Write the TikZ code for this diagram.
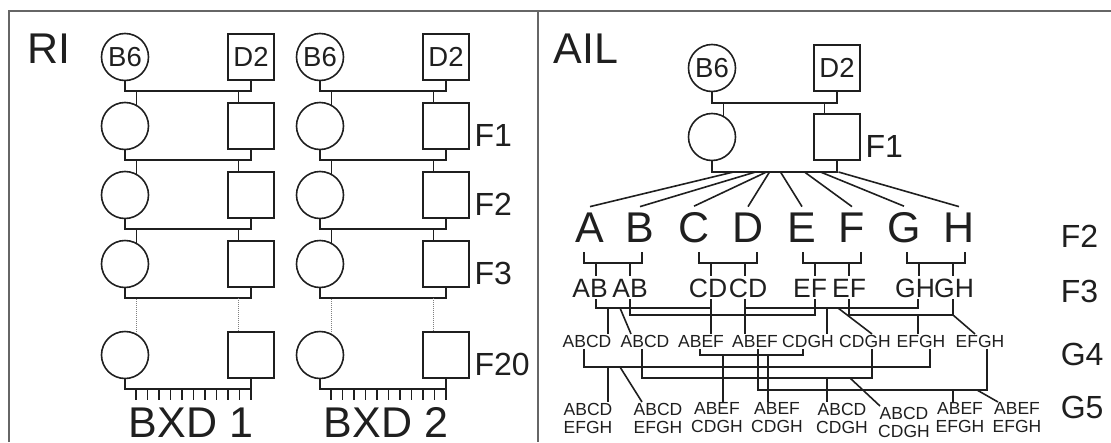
\documentclass[tikz,border=0pt]{standalone}
\usepackage{fontspec}
\setmainfont{Liberation Sans}
\usetikzlibrary{calc}
\newcommand{\fsbig}{\fontsize{43}{43}\selectfont}
\newcommand{\fsgen}{\fontsize{32}{32}\selectfont}
\newcommand{\fspar}{\fontsize{27.5}{27.5}\selectfont}
\newcommand{\fsmid}{\fontsize{26.5}{26.5}\selectfont}
\newcommand{\fssml}{\fontsize{17.5}{18}\selectfont}

\begin{document}
\begin{tikzpicture}[x=1pt, y=-1pt, line width=1.6pt, color=black!88,
  fem/.style={circle, draw, minimum size=47pt, inner sep=0pt, font=\fspar},
  mal/.style={rectangle, draw, minimum size=46pt, inner sep=0pt, font=\fspar},
  gen/.style={anchor=base west, inner sep=0pt, font=\fsgen},
  txt/.style={anchor=base, inner sep=0pt},
  frame/.style={line width=2pt, black!60}]
\useasboundingbox (0,0) rectangle (1111,442);
% frame
\draw[frame] (9,442) -- (9,11) -- (1111,11);
\draw[frame] (538,11) -- (538,442);

% RI: two inbred lines, brother x sister
\node[txt, anchor=base west, font=\fsbig] (ri) at (27,63) {RI};
\foreach \i/\cx in {1/125, 2/320} {
  \node[fem] (c\i0) at (\cx,57) {B6};
  \node[mal] (s\i0) at (\cx+126,57) {D2};
  \foreach \r/\ry in {1/126, 2/195, 3/264, 4/355} {
    \node[fem] (c\i\r) at (\cx,\ry) {};
    \node[mal] (s\i\r) at (\cx+126,\ry) {};
  }
  \foreach \r/\ry in {0/57, 1/126, 2/195, 3/264, 4/355} {
    \coordinate (m\i\r) at (\cx+63,\ry+34);
    \draw (c\i\r.south) |- (m\i\r) -| (s\i\r.south);
  }
  \foreach \r/\n in {0/1, 1/2, 2/3} {
    \draw (c\i\n.62) -- (c\i\n.62 |- m\i\r);
    \draw (s\i\n.118) -- (s\i\n.118 |- m\i\r);
  }
  % F4 ... F19 left out
  \draw[densely dotted, line width=1pt, black!50] (c\i4.62) -- (c\i4.62 |- m\i3);
  \draw[densely dotted, line width=1pt, black!50] (s\i4.118) -- (s\i4.118 |- m\i3);
  \foreach \k in {0,...,10}
    \draw ($(m\i4)+(-52+11.5*\k,0)$) -- ++(0,11);
  \node[txt, font=\fsbig] (bxd\i) at ($(m\i4)+(3,48)$) {BXD \i};
}
\foreach \r/\t in {1/F1, 2/F2, 3/F3, 4/F20}
  \node[gen] (lr\r) at ($(s2\r.east)+(4,20)$) {\t};

% AIL: founders and F1
\node[txt, anchor=base west, font=\fsbig] (ail) at (553,63) {AIL};
\node[fem] (pa) at (712,68) {B6};
\node[mal] (pb) at (837,68) {D2};
\coordinate (am0) at (774.5,103);
\draw (pa.south) |- (am0) -| (pb.south);
\node[fem] (fa) at (712,137) {};
\node[mal] (fb) at (837,137) {};
\draw (fa.62) -- (fa.62 |- am0);
\draw (fb.118) -- (fb.118 |- am0);
\node[gen] (lf1) at ($(fb.east)+(4,20)$) {F1};
\coordinate (am1) at (774.5,172);
\draw (fa.south) |- (am1) -| (fb.south);

% F2 offspring
\foreach \n/\x/\dx in {A/590/-41, B/640/-19, C/694/-8, D/748/-5, E/802/6, F/852/30, G/904/46, H/959/64} {
  \node[txt, font=\fsbig] (\n) at (\x,242) {\n};
  \draw ($(am1)+(\dx,0)$) -- ($(\n.north)+(0,-5)$);
}
\foreach \p/\x in {ab/613, cd/728, ef/832, gh/936} {
  \coordinate (br\p) at (\x,263);
  \draw ($(br\p)+(-29,-11)$) |- ($(br\p)+(29,0)$) -- ++(0,-11);
  \draw ($(br\p)+(-17,0)$) -- ++(0,13);
  \draw ($(br\p)+(17,0)$) -- ++(0,13);
}

% F3
\foreach \n/\t/\x in {ab1/AB/590, ab2/AB/630, cd1/CD/708, cd2/CD/748, ef1/EF/810, ef2/EF/849, gh1/GH/915, gh2/GH/954}
  \node[txt, font=\fsmid] (\n) at (\x,297) {\t};
\foreach \n/\x in {1/596, 2/630, 3/711, 4/745, 5/815, 6/849, 7/918, 8/953}
  \coordinate (w\n) at (\x,299);
\coordinate (j1) at (0,308);
\coordinate (j2) at (0,315);
\draw (w1) |- (w3 |- j1) -- (w3); % AB x CD
\draw (w4) |- (w7 |- j1) -- (w7); % CD x GH
\draw (w2) |- (w5 |- j2) -- (w5); % AB x EF
\draw (w6) |- (w8 |- j2) -- (w8); % EF x GH

% G4
\foreach \n/\t/\x in {1/ABCD/587, 2/ABCD/645, 3/ABEF/701, 4/ABEF/755, 5/CDGH/808, 6/CDGH/865, 7/EFGH/921, 8/EFGH/980}
  \node[txt, font=\fssml] (g4\n) at (\x,347) {\t};
\coordinate (k1) at (608,308);
\coordinate (k2) at (620,308);
\coordinate (k3) at (711,308);
\coordinate (k4) at (745,308);
\coordinate (k5) at (827,308);
\coordinate (k6) at (838,308);
\coordinate (k7) at (918,315);
\coordinate (k8) at (953,315);
\draw (k1) -- (k1 |- g41.north);
\draw (k2) -- ($(g42.north)+(-14,0)$);
\draw (k3) -- (k3 |- g43.north);
\draw (k4) -- (k4 |- g44.north);
\draw (k5) -- (k5 |- g45.north);
\draw (k6) -- ($(g46.north)+(7,0)$);
\draw (k7) -- (k7 |- g47.north);
\draw (k8) -- ($(g48.north)+(-5,0)$);
\foreach \n/\x in {1/584, 2/642, 3/700, 4/758, 5/803, 6/872, 7/930, 8/987}
  \coordinate (v\n) at (\x,349);
\coordinate (i1) at (0,355);
\coordinate (i2) at (0,367);
\coordinate (i3) at (0,378);
\coordinate (i4) at (0,390);
\draw (v3) |- (v5 |- i1) -- (v5); % ABEF x CDGH
\draw (v1) |- (v7 |- i2) -- (v7); % ABCD x EFGH
\draw (v2) |- (v6 |- i3) -- (v6); % ABCD x CDGH
\draw (v4) |- (v8 |- i4) -- (v8); % ABEF x EFGH

% G5
\foreach \n/\a/\b/\x/\y in {1/ABCD/EFGH/588/402, 2/ABCD/EFGH/658/402, 3/ABEF/CDGH/717/402, 4/ABEF/CDGH/777/402, 5/ABCD/CDGH/842/402, 6/ABCD/CDGH/904/406, 7/ABEF/EFGH/960/402, 8/ABEF/EFGH/1017/402}
  \node[txt, anchor=north, align=center, font=\fssml] (g5\n) at (\x,\y) {\a\\\b};
\coordinate (q1) at (608,367);
\coordinate (q2) at (620,367);
\coordinate (q3) at (723,355);
\coordinate (q4) at (768,355);
\coordinate (q5) at (827,378);
\coordinate (q6) at (850,378);
\coordinate (q7) at (953,390);
\coordinate (q8) at (977,390);
\draw (q1) -- (q1 |- g51.north);
\draw (q2) -- ($(g52.north)+(-16,0)$);
\draw (q3) -- (q3 |- g53.north);
\draw (q4) -- (q4 |- g54.north);
\draw (q5) -- (q5 |- g55.north);
\draw (q6) -- ($(g56.north)+(-24,0)$);
\draw (q7) -- (q7 |- g57.north);
\draw (q8) -- ($(g58.north)+(-19,0)$);

% generation labels
\foreach \t/\y in {F2/247, F3/302, G4/365, G5/418}
  \node[gen] (r\t) at (1060,\y) {\t};
\end{tikzpicture}
\end{document}
